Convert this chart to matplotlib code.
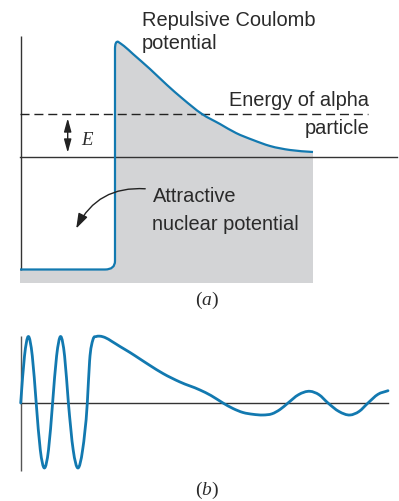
import numpy as np
import matplotlib
matplotlib.use("Agg")
import matplotlib.pyplot as plt
from matplotlib.path import Path
from matplotlib.patches import PathPatch, FancyArrowPatch

plt.rcParams['font.family'] = ['Liberation Sans', 'DejaVu Sans']
plt.rcParams['mathtext.fontset'] = 'custom'
plt.rcParams['mathtext.rm'] = 'Liberation Serif'
plt.rcParams['mathtext.it'] = 'Liberation Serif:italic'

BLUE = '#1279b0'
GRAY = '#d3d4d6'
AXIS = '#333333'

# ---------------- data (panel a: potential) ----------------
well_x = [20, 105]
well_v = -112.5
wall_x = 115
corner_v = -104
wall_top_v = 108
barrier_x = [118, 124, 133, 150, 167, 183, 202, 220, 236, 253, 270, 290, 313]
barrier_v = [115.3, 111, 103, 88, 72, 58, 43, 33, 24, 17, 11, 7, 5]
fill_bottom = -126
energy_v = 43
axis_top_v = 121

# ---------------- data (panel b: wavefunction) ----------------
wave_x = [20.7, 24.5, 28.3, 32.3, 36.2, 40.3, 44.4, 48.5, 52.6, 56.6, 60.7, 64.6,
          68.4, 73.2, 78.0, 82.6, 87.3, 89.6, 93.0, 96.5, 100.0, 105.0, 112.0,
          120.0, 130.0, 140.0, 150.0, 163.0, 180.0, 200.0, 211.0, 223.0, 233.0,
          243.0, 253.0, 263.0, 272.0, 280.0, 288.0, 298.5, 310.0, 319.0, 328.0,
          339.0, 350.0, 359.0, 368.0, 378.0, 388.0]
wave_v = [0, 47, 66.5, 47, 0, -47, -65, -47, 0, 47, 66.5, 47,
          0, -47, -65, -47, 0, 42, 63.5, 66.5, 66.8, 65.5, 61.5,
          56.5, 50.5, 44, 37.5, 29.5, 21, 13, 7.5, 0, -5.5,
          -9.5, -11.3, -12, -10.8, -6.5, 0, 8.3, 11.7, 8.3, 0,
          -8.5, -12, -8.5, 0, 8.7, 12.3]


def smooth_segments(xs, ys):
    """Cubic Bezier segments through the read points (Bessel tangents)."""
    xs = np.asarray(xs, float)
    ys = np.asarray(ys, float)
    n = len(xs)
    h = np.diff(xs)
    d = np.diff(ys) / h
    m = np.empty(n)
    m[1:-1] = (h[1:] * d[:-1] + h[:-1] * d[1:]) / (h[:-1] + h[1:])
    m[0] = d[0]
    m[-1] = d[-1]
    verts, codes = [], []
    for i in range(n - 1):
        hi = h[i]
        verts += [(xs[i] + hi / 3, ys[i] + m[i] * hi / 3),
                  (xs[i + 1] - hi / 3, ys[i + 1] - m[i + 1] * hi / 3),
                  (xs[i + 1], ys[i + 1])]
        codes += [Path.CURVE4] * 3
    return verts, codes


fig = plt.figure(figsize=(3.99, 5.02), dpi=100)
ax_a = fig.add_axes([0, 192 / 502, 1, 310 / 502])
ax_b = fig.add_axes([0, 0, 1, 192 / 502])
for ax in (ax_a, ax_b):
    ax.set_xlim(0, 399)
    ax.axis('off')
ax_a.set_ylim(-152, 158)
ax_b.set_ylim(-98, 94)

# ---- panel a ----
verts = [(well_x[0], well_v), (well_x[1], well_v),
         (wall_x, well_v), (wall_x, corner_v),
         (wall_x, wall_top_v),
         (wall_x, barrier_v[0] + 0.7), (barrier_x[0], barrier_v[0])]
codes = [Path.MOVETO, Path.LINETO, Path.CURVE3, Path.CURVE3, Path.LINETO,
         Path.CURVE3, Path.CURVE3]
bv, bc = smooth_segments(barrier_x, barrier_v)
verts += bv
codes += bc

fill_verts = verts + [(barrier_x[-1], fill_bottom), (well_x[0], fill_bottom), (0, 0)]
fill_codes = codes + [Path.LINETO, Path.LINETO, Path.CLOSEPOLY]
ax_a.add_patch(PathPatch(Path(fill_verts, fill_codes), facecolor=GRAY,
                         edgecolor='none', zorder=1))
ax_a.add_patch(PathPatch(Path(verts, codes), facecolor='none', edgecolor=BLUE,
                         lw=1.6, zorder=4, capstyle='butt', joinstyle='round'))

ax_a.plot([20.5, 20.5], [well_v, axis_top_v], color=AXIS, lw=1.0, zorder=3,
          solid_capstyle='butt')
ax_a.plot([20, 397], [0, 0], color=AXIS, lw=1.0, zorder=3)
ax_a.plot([20, 368], [energy_v, energy_v], color='#222222', lw=1.0,
          dashes=(6.5, 3.5), zorder=3)

ax_a.add_patch(FancyArrowPatch((67.7, energy_v - 1.5), (67.7, 1.5),
                               arrowstyle='<|-|>,head_length=0.8,head_width=0.22',
                               mutation_scale=10,
                               color='#222222', lw=1.0, zorder=5))
ax_a.add_patch(FancyArrowPatch((148, -32), (75, -74),
                               connectionstyle='arc3,rad=0.35',
                               arrowstyle='-|>,head_length=0.9,head_width=0.3',
                               mutation_scale=10,
                               color='#222222', lw=1.0, zorder=5))

tkw = dict(fontsize=14.4, color='#2a2a2a', va='baseline')
ax_a.text(141.5, 132, 'Repulsive Coulomb', ha='left', **tkw)
ax_a.text(141.5, 109, 'potential', ha='left', **tkw)
ax_a.text(369, 52, 'Energy of alpha', ha='right', **tkw)
ax_a.text(369, 24, 'particle', ha='right', **tkw)
ax_a.text(152.5, -43.7, 'Attractive', ha='left', **tkw)
ax_a.text(152.5, -72, 'nuclear potential', ha='left', **tkw)
ax_a.text(81, 13, '$E$', ha='left', va='baseline', fontsize=13.5, color='#2a2a2a')
ax_a.text(207, -142, '$(a)$', ha='center', va='center', fontsize=14, color='#2a2a2a')

# ---- panel b ----
ax_b.plot([21, 21], [-68, 67], color='#555555', lw=1.0, zorder=2,
          solid_capstyle='butt')
ax_b.plot([21, 388], [0, 0], color=AXIS, lw=1.0, zorder=2)
wv, wc = smooth_segments(wave_x, wave_v)
ax_b.add_patch(PathPatch(Path([(wave_x[0], wave_v[0])] + wv, [Path.MOVETO] + wc),
                         facecolor='none', edgecolor=BLUE, lw=2.0, zorder=3,
                         joinstyle='round', capstyle='round'))
ax_b.text(207, -86, '$(b)$', ha='center', va='center', fontsize=14, color='#2a2a2a')

fig.savefig('out.png', dpi=100, facecolor='white')
